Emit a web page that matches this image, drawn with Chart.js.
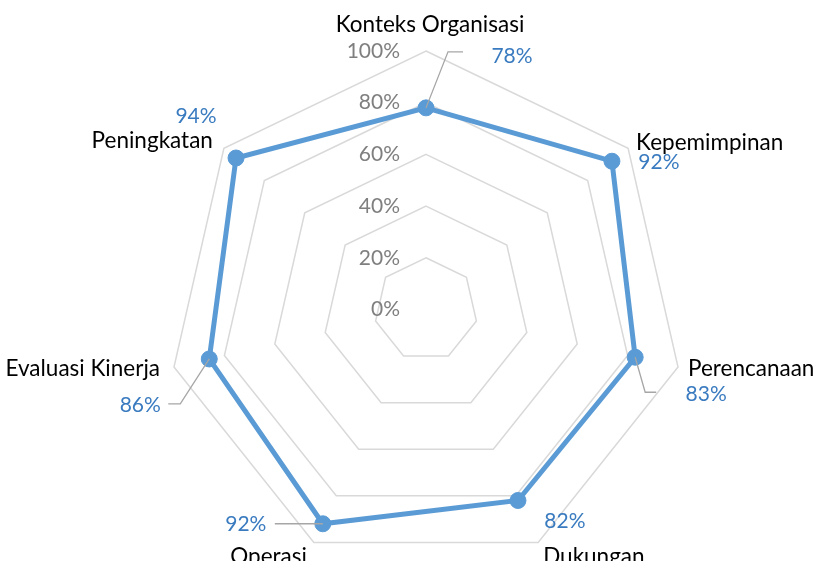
<!DOCTYPE html>
<html><head><meta charset="utf-8">
<script src="https://cdn.jsdelivr.net/npm/chart.js@4"></script>
<style>html,body{margin:0;padding:0;background:#fff}#wrap{width:815px;height:561px}</style>
</head><body><div id="wrap"><canvas id="c" width="815" height="561"></canvas></div>
<script>
const categories = ['Konteks Organisasi','Kepemimpinan','Perencanaan','Dukungan','Operasi','Evaluasi Kinerja','Peningkatan'];
const values = [78, 92, 83, 82, 92, 86, 94];
const tickValues = [0, 20, 40, 60, 80, 100];
const tickLabels = ['0%', '20%', '40%', '60%', '80%', '100%'];

const CAT_FONT = '22.5px Lato';
const NUM_FONT = '21px Lato';
// category label placement relative to the outer (100%) vertex
const catLayout = [
  {align:'center', dx:4,  dy:-26},
  {align:'left',   dx:8,  dy:-6},
  {align:'left',   dx:10, dy:2},
  {align:'left',   dx:5,  dy:14},
  {align:'right',  dx:-7, dy:14},
  {align:'right',  dx:-14,dy:2},
  {align:'right',  dx:-11,dy:-8}
];
// data label placement relative to the data point, with optional leader line
const valLayout = [
  {dx:86, dy:-52, leader:[[22,-56],[37,-56]]},
  {dx:47, dy:1},
  {dx:71, dy:37, leader:[[10,35],[21,35]]},
  {dx:47, dy:21},
  {dx:-77,dy:0, leader:[[-48,0]]},
  {dx:-69,dy:46, leader:[[-29,45],[-41,45]]},
  {dx:-40,dy:-42}
];

const labelPlugin = {
  id:'labels',
  afterDatasetsDraw(chart){
    const ctx = chart.ctx;
    const s = chart.scales.r;
    ctx.save();
    ctx.textBaseline = 'middle';
    // tick labels
    ctx.font = NUM_FONT;
    ctx.fillStyle = '#7f7f7f';
    ctx.textAlign = 'right';
    tickValues.forEach((v,i)=>{
      const y = s.yCenter - s.getDistanceFromCenterForValue(v);
      ctx.fillText(tickLabels[i], s.xCenter - 26, y);
    });
    // category labels
    ctx.font = CAT_FONT;
    ctx.fillStyle = '#000000';
    categories.forEach((c,i)=>{
      const p = s.getPointPosition(i, s.getDistanceFromCenterForValue(100));
      const L = catLayout[i];
      ctx.textAlign = L.align;
      ctx.fillText(c, p.x + L.dx, p.y + L.dy);
    });
    // data labels + leaders
    ctx.font = NUM_FONT;
    const meta = chart.getDatasetMeta(0);
    meta.data.forEach((pt,i)=>{
      const L = valLayout[i];
      if (L.leader){
        ctx.strokeStyle = '#a6a6a6';
        ctx.lineWidth = 1.3;
        ctx.beginPath();
        ctx.moveTo(pt.x, pt.y);
        L.leader.forEach(q=>ctx.lineTo(pt.x+q[0], pt.y+q[1]));
        ctx.stroke();
      }
      ctx.fillStyle = '#3a7bc0';
      ctx.textAlign = 'center';
      ctx.fillText(values[i] + '%', pt.x + L.dx, pt.y + L.dy);
    });
    ctx.restore();
  }
};

new Chart(document.getElementById('c'), {
  type:'radar',
  data:{
    labels: categories,
    datasets:[{
      data: values,
      borderColor:'#5b9bd5',
      backgroundColor:'rgba(0,0,0,0)',
      borderWidth:5,
      pointRadius:8,
      pointBackgroundColor:'#5b9bd5',
      pointBorderColor:'#5b9bd5',
      pointBorderWidth:1,
      fill:false,
      tension:0
    }]
  },
  options:{
    responsive:false,
    devicePixelRatio:1,
    animation:false,
    layout:{padding:0},
    plugins:{legend:{display:false}, tooltip:{enabled:false}},
    scales:{
      r:{
        min:0, max:100,
        ticks:{stepSize:20, display:false},
        pointLabels:{display:false},
        angleLines:{display:false},
        grid:{color:'#d9d9d9', lineWidth:1.5},
        afterFit(s){ s.xCenter = 426; s.yCenter = 309.5; s.drawingArea = 258.5; }
      }
    }
  },
  plugins:[labelPlugin]
});
</script>
</body></html>
